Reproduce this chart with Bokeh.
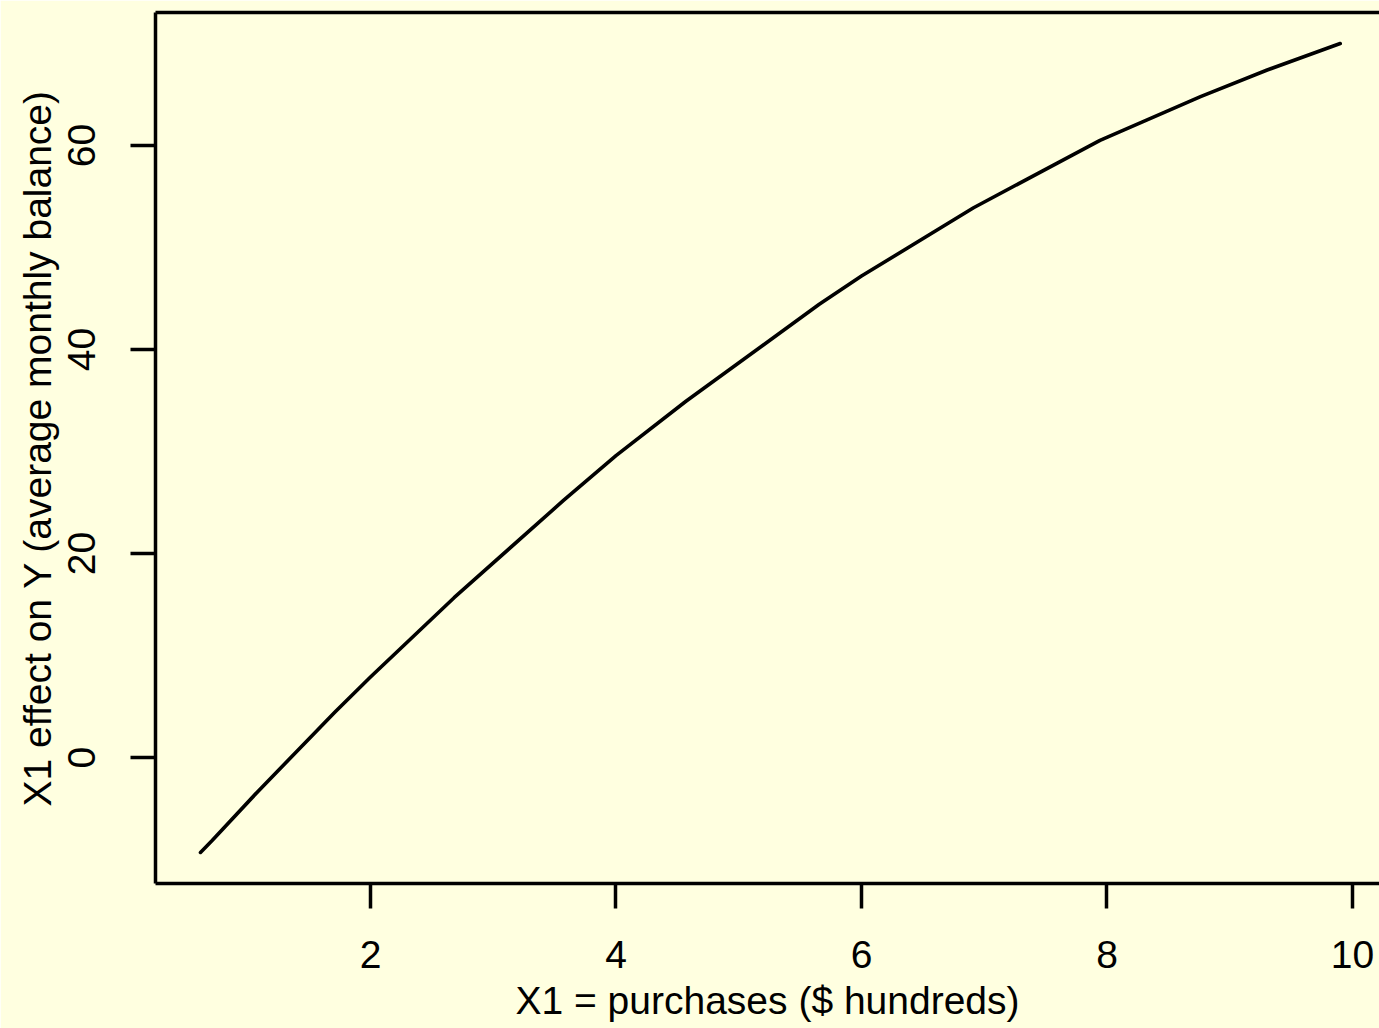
from bokeh.plotting import figure
from bokeh.models import Range1d, FixedTicker, LinearAxis, ColumnDataSource
from bokeh.embed import file_html
from bokeh.resources import INLINE

# values
x_purchases = [0.615, 0.710, 1.081, 1.709, 2.0, 2.681, 3.570, 4.0, 4.570, 5.656, 6.0, 6.913, 7.943, 8.762, 9.305, 9.90]
y_effect = [-9.3, -8.14, -3.35, 4.44, 7.9, 15.67, 25.18, 29.6, 34.93, 44.44, 47.2, 53.9, 60.5, 64.8, 67.4, 70.0]

x_ticks = [2, 4, 6, 8, 10]
y_ticks = [0, 20, 40, 60]

x_label = "X1 = purchases ($ hundreds)"
y_label = "X1 effect on Y (average monthly balance)"

BG = "#FFFFE0"
FONT = "Liberation Sans"
FS = "39px"

p = figure(
    output_backend="svg", toolbar_location=None,
    frame_width=1224, frame_height=871,
    min_border_left=155, min_border_right=0, min_border_top=12, min_border_bottom=145,
    x_range=Range1d(0.2485, 10.22), y_range=Range1d(-12.35, 73.04),
    x_axis_label=x_label, y_axis_label=y_label,
    background_fill_color=BG, border_fill_color=BG,
)
p.outline_line_color = None
p.xgrid.visible = False
p.ygrid.visible = False

src = ColumnDataSource(dict(x=x_purchases, y=y_effect))
p.line("x", "y", source=src, line_color="black", line_width=3.6, line_join="round", line_cap="round")

for ax, ticks in ((p.xaxis[0], x_ticks), (p.yaxis[0], y_ticks)):
    ax.ticker = FixedTicker(ticks=ticks)
    ax.minor_tick_line_color = None
    ax.major_tick_in = 0
    ax.major_tick_out = 25
    ax.major_tick_line_width = 3.5
    ax.major_tick_line_color = "black"
    ax.axis_line_width = 3.5
    ax.axis_line_color = "black"
    ax.major_label_text_font = FONT
    ax.major_label_text_font_size = FS
    ax.major_label_text_color = "black"
    ax.axis_label_text_font = FONT
    ax.axis_label_text_font_size = FS
    ax.axis_label_text_font_style = "normal"
    ax.axis_label_text_color = "black"

p.xaxis[0].major_label_standoff = 32
p.xaxis[0].axis_label_standoff = 8
p.yaxis[0].major_label_orientation = "vertical"
p.yaxis[0].major_label_standoff = 35
p.yaxis[0].axis_label_standoff = 7

top = LinearAxis(ticker=FixedTicker(ticks=[]), axis_line_width=3.5, axis_line_color="black",
                 major_tick_out=0, major_tick_in=0, minor_tick_out=0, minor_tick_in=0,
                 major_label_standoff=0, major_label_text_font_size="0px")
p.add_layout(top, "above")

open("out.html", "w").write(file_html(p, INLINE))
